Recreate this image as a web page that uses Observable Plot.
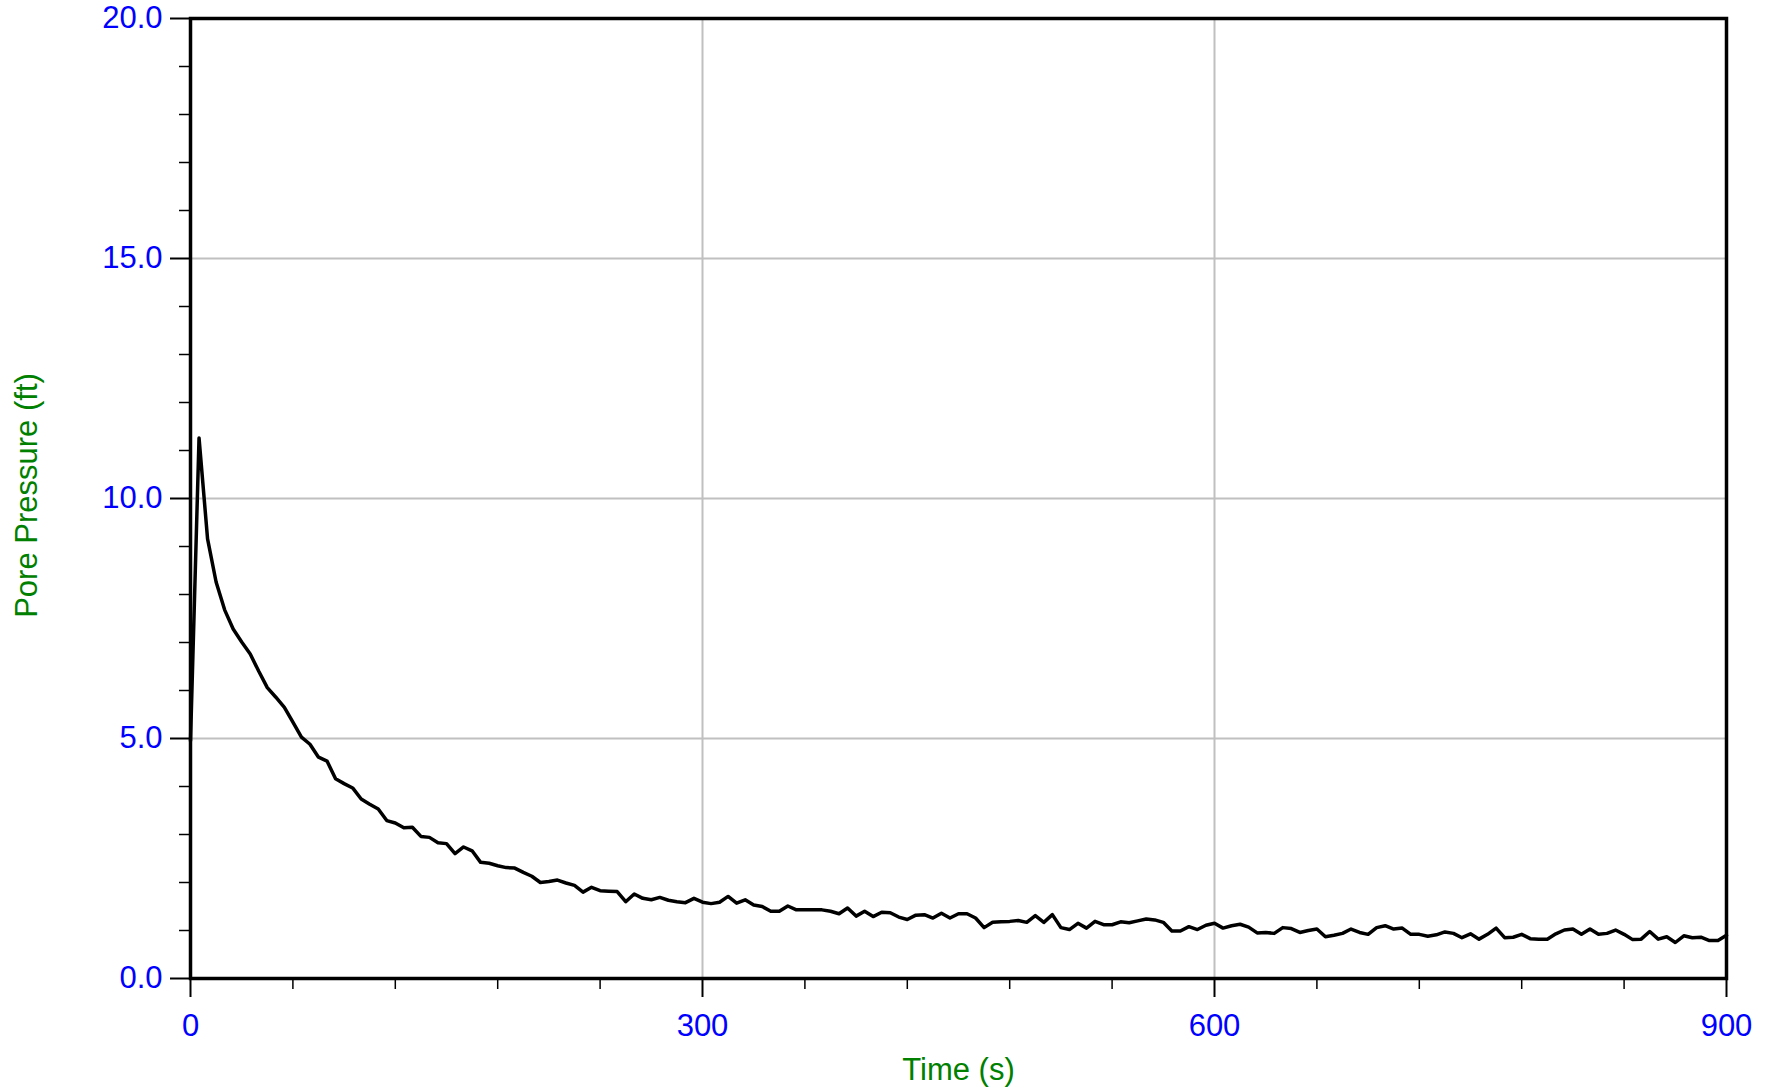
<!DOCTYPE html>
<html>
<head>
<meta charset="utf-8">
<script src="https://cdn.jsdelivr.net/npm/d3@7"></script>
<script src="https://cdn.jsdelivr.net/npm/@observablehq/plot@0.6"></script>
<style>
  html, body { margin: 0; padding: 0; background: #fff; }
  #chart svg { display: block; }
</style>
</head>
<body>
<div id="chart"></div>
<script>
const timeS = [
  0,5,10,15,20,25,30,35,40,45,50,55,60,65,70,75,80,85,90,95,
  100,105,110,115,120,125,130,135,140,145,150,155,160,165,170,175,180,185,190,195,
  200,205,210,215,220,225,230,235,240,245,250,255,260,265,270,275,280,285,290,295,
  300,305,310,315,320,325,330,335,340,345,350,355,360,365,370,375,380,385,390,395,
  400,405,410,415,420,425,430,435,440,445,450,455,460,465,470,475,480,485,490,495,
  500,505,510,515,520,525,530,535,540,545,550,555,560,565,570,575,580,585,590,595,
  600,605,610,615,620,625,630,635,640,645,650,655,660,665,670,675,680,685,690,695,
  700,705,710,715,720,725,730,735,740,745,750,755,760,765,770,775,780,785,790,795,
  800,805,810,815,820,825,830,835,840,845,850,855,860,865,870,875,880,885,890,895,
  900
];
const porePressureFt = [
  4.95,11.26,9.16,8.26,7.68,7.28,7.01,6.76,6.40,6.06,5.86,5.65,5.34,5.03,4.88,4.61,4.53,4.16,4.06,3.97,
  3.74,3.63,3.53,3.29,3.24,3.14,3.15,2.96,2.94,2.83,2.81,2.60,2.74,2.66,2.42,2.40,2.35,2.31,2.30,2.21,
  2.13,2.00,2.02,2.05,1.99,1.94,1.80,1.90,1.83,1.82,1.81,1.60,1.76,1.67,1.64,1.69,1.63,1.60,1.58,1.67,
  1.59,1.56,1.59,1.71,1.57,1.64,1.53,1.50,1.40,1.40,1.51,1.43,1.43,1.43,1.43,1.40,1.35,1.47,1.30,1.40,
  1.29,1.38,1.37,1.28,1.23,1.32,1.33,1.26,1.36,1.26,1.35,1.35,1.26,1.06,1.17,1.18,1.19,1.21,1.17,1.31,
  1.17,1.33,1.06,1.02,1.15,1.05,1.19,1.12,1.12,1.18,1.16,1.20,1.24,1.22,1.17,0.99,0.99,1.08,1.02,1.11,
  1.15,1.05,1.10,1.13,1.07,0.95,0.96,0.94,1.06,1.04,0.96,1.00,1.03,0.87,0.90,0.94,1.03,0.96,0.92,1.06,
  1.10,1.03,1.05,0.92,0.92,0.88,0.91,0.97,0.94,0.85,0.93,0.82,0.92,1.05,0.85,0.86,0.92,0.83,0.82,0.82,
  0.93,1.01,1.03,0.92,1.03,0.92,0.94,1.01,0.92,0.81,0.82,0.98,0.82,0.87,0.75,0.89,0.85,0.86,0.79,0.79,
  0.90
];
const xMajorTicks = [0, 300, 600, 900];
const xMinorTicks = [60, 120, 180, 240, 360, 420, 480, 540, 660, 720, 780, 840];
const yMajorTicks = [0, 5, 10, 15, 20];
const yMinorTicks = [1, 2, 3, 4, 6, 7, 8, 9, 11, 12, 13, 14, 16, 17, 18, 19];
const xGrid = [300, 600];
const yGrid = [5, 10, 15];
const xLabel = "Time (s)";
const yLabel = "Pore Pressure (ft)";

const data = timeS.map((t, i) => ({t, p: porePressureFt[i]}));

const blue = "#0000ff";
const green = "#008000";

const chart = Plot.plot({
  width: 1772,
  height: 1090,
  marginLeft: 190,
  marginRight: 46,
  marginTop: 18,
  marginBottom: 112,
  style: {fontFamily: "'Liberation Sans', Arial, sans-serif", fontSize: "31px", background: "#fff"},
  x: {domain: [0, 900]},
  y: {domain: [0, 20]},
  marks: [
    Plot.gridX(xGrid, {stroke: "#c0c0c0", strokeOpacity: 1, strokeWidth: 2}),
    Plot.gridY(yGrid, {stroke: "#c0c0c0", strokeOpacity: 1, strokeWidth: 2}),
    Plot.line(data, {x: "t", y: "p", stroke: "black", strokeWidth: 3.5, strokeLinejoin: "round"}),
    Plot.frame({stroke: "black", strokeWidth: 3.5}),
    Plot.axisY(yMajorTicks, {tickSize: 20, tickPadding: 8, tickFormat: d3.format(".1f"), stroke: "black", strokeWidth: 2, fill: blue, fontSize: 31, label: null}),
    Plot.axisY(yMinorTicks, {tickSize: 11, text: null, stroke: "black", strokeWidth: 1.5, label: null}),
    Plot.axisX(xMajorTicks, {tickSize: 19, tickPadding: 16, tickFormat: d3.format("d"), stroke: "black", strokeWidth: 2, fill: blue, fontSize: 31, label: null}),
    Plot.axisX(xMinorTicks, {tickSize: 11, text: null, stroke: "black", strokeWidth: 1.5, label: null}),
    Plot.text([xLabel], {frameAnchor: "bottom", lineAnchor: "top", textAnchor: "middle", dy: 79, fill: green, fontSize: 31, text: d => d}),
    Plot.text([yLabel], {frameAnchor: "left", rotate: -90, textAnchor: "middle", lineAnchor: "middle", dx: -163, dy: -3, fill: green, fontSize: 31, text: d => d})
  ]
});
document.getElementById("chart").appendChild(chart);
</script>
</body>
</html>
